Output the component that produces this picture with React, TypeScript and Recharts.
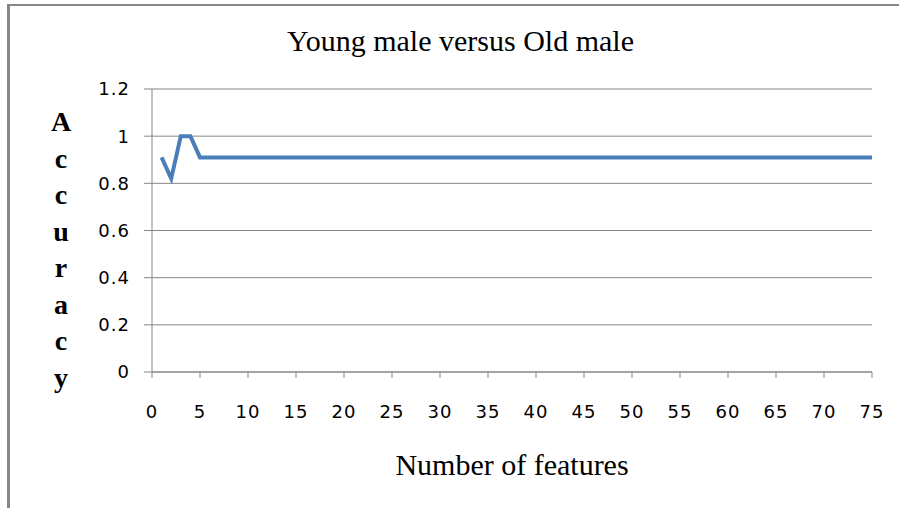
import React from 'react';
import { LineChart, Line, XAxis, YAxis, CartesianGrid } from 'recharts';

const featureCounts: number[] = Array.from({ length: 75 }, (_, i) => i + 1);
const accuracyHead: number[] = [0.91, 0.82, 1.0, 1.0, 0.91];
const accuracyTail = 0.91;
const accuracyValues: number[] = featureCounts.map((n, i) => (i < accuracyHead.length ? accuracyHead[i] : accuracyTail));
const xTicks: number[] = [0, 5, 10, 15, 20, 25, 30, 35, 40, 45, 50, 55, 60, 65, 70, 75];
const yTicks: number[] = [0, 0.2, 0.4, 0.6, 0.8, 1, 1.2];
const yLabelLetters: string[] = ['A', 'c', 'c', 'u', 'r', 'a', 'c', 'y'];
const titleText = 'Young male versus Old male';
const xLabelText = 'Number of features';

const data = featureCounts.map((n, i) => ({ n, acc: accuracyValues[i] }));

const GRAY = '#868686';
const SERIF = '"Liberation Serif", "Times New Roman", serif';
const SANS = '"DejaVu Sans", Verdana, sans-serif';

export default function App() {
  return (
    <div style={{ position: 'absolute', left: 0, top: 0, width: 899, height: 508, background: '#fff', overflow: 'hidden' }}>
      <div style={{ position: 'absolute', left: 7, top: 4, width: 892, height: 504, borderTop: `2px solid ${GRAY}`, borderLeft: `3px solid ${GRAY}`, boxSizing: 'border-box' }} />
      <div style={{ position: 'absolute', left: 0, top: 0 }}>
        <LineChart width={899} height={508} data={data} margin={{ top: 89, right: 27, bottom: 106, left: 0 }}>
          <CartesianGrid vertical={false} stroke={GRAY} strokeWidth={1} />
          <XAxis
            dataKey="n"
            type="number"
            domain={[0, 75]}
            ticks={xTicks}
            height={30}
            tickSize={6}
            tickMargin={27}
            axisLine={{ stroke: GRAY }}
            tickLine={{ stroke: GRAY }}
            tick={{ fill: '#000', fontSize: 18, fontFamily: SANS, letterSpacing: 1 }}
            interval={0}
            label={{
              content: (props: any) => {
                const vb = props.viewBox || {};
                return (
                  <text x={vb.x + vb.width / 2} y={475} textAnchor="middle" fontFamily={SERIF} fontSize={30} fill="#000">
                    {xLabelText}
                  </text>
                );
              },
            }}
          />
          <YAxis
            type="number"
            domain={[0, 1.2]}
            ticks={yTicks}
            width={152}
            tickSize={8}
            tickMargin={14}
            axisLine={{ stroke: GRAY }}
            tickLine={{ stroke: GRAY }}
            tick={{ fill: '#000', fontSize: 18, fontFamily: SANS, letterSpacing: 1 }}
            interval={0}
            label={{
              content: () => (
                <g>
                  {yLabelLetters.map((ch, i) => (
                    <text key={i} x={61} y={131 + i * 36.5} textAnchor="middle" fontFamily={SERIF} fontWeight="bold" fontSize={28} fill="#000">
                      {ch}
                    </text>
                  ))}
                </g>
              ),
            }}
          />
          <Line type="linear" dataKey="acc" stroke="#4a7ebb" strokeWidth={4} dot={false} isAnimationActive={false} />
        </LineChart>
      </div>
      <div style={{ position: 'absolute', left: 0, width: 921, top: 23, textAlign: 'center', fontFamily: SERIF, fontSize: 30, lineHeight: '36px', color: '#000', whiteSpace: 'nowrap' }}>
        {titleText}
      </div>
    </div>
  );
}
